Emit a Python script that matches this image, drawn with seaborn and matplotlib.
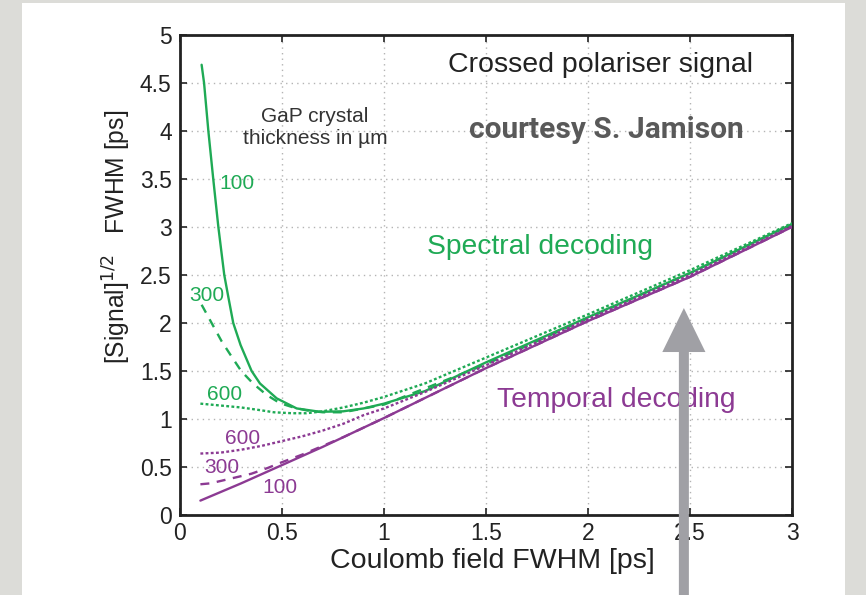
import matplotlib
matplotlib.use("Agg")
import matplotlib.pyplot as plt
import seaborn as sns
import pandas as pd
from matplotlib.patches import Rectangle

# ---------------- data ----------------
x_spec100 = [0.106, 0.118, 0.139, 0.163, 0.188, 0.217, 0.237, 0.261, 0.297, 0.351, 0.392, 0.474, 0.572, 0.686, 0.80, 0.90, 1.00, 1.20, 1.50, 2.00, 2.50, 3.00]
y_spec100 = [4.69, 4.50, 4.00, 3.50, 3.00, 2.50, 2.27, 2.00, 1.77, 1.50, 1.37, 1.215, 1.11, 1.075, 1.08, 1.11, 1.16, 1.29, 1.59, 2.06, 2.52, 3.03]

x_spec300 = [0.106, 0.155, 0.204, 0.253, 0.30, 0.358, 0.425, 0.49, 0.556, 0.62, 0.70, 0.80, 1.00, 1.50, 2.00, 2.50, 3.00]
y_spec300 = [2.19, 2.00, 1.81, 1.65, 1.50, 1.37, 1.25, 1.165, 1.12, 1.09, 1.07, 1.07, 1.15, 1.57, 2.05, 2.52, 3.03]

x_spec600 = [0.10, 0.20, 0.30, 0.40, 0.46, 0.55, 0.62, 0.70, 0.80, 0.90, 1.00, 1.20, 1.50, 2.00, 2.50, 3.00]
y_spec600 = [1.16, 1.14, 1.12, 1.09, 1.07, 1.06, 1.06, 1.08, 1.12, 1.17, 1.23, 1.37, 1.64, 2.09, 2.55, 3.04]

x_temp100 = [0.10, 0.30, 0.50, 0.70, 1.00, 1.50, 2.00, 2.50, 3.00]
y_temp100 = [0.15, 0.33, 0.52, 0.71, 1.01, 1.53, 2.02, 2.48, 3.00]

x_temp300 = [0.10, 0.15, 0.25, 0.35, 0.43, 0.50, 0.60, 0.70, 0.80, 1.00, 1.50, 2.00, 2.50, 3.00]
y_temp300 = [0.32, 0.33, 0.38, 0.43, 0.49, 0.55, 0.63, 0.72, 0.81, 1.01, 1.53, 2.02, 2.48, 3.00]

x_temp600 = [0.10, 0.20, 0.30, 0.40, 0.50, 0.60, 0.70, 0.80, 0.90, 1.00, 1.20, 1.50, 2.00, 2.50, 3.00]
y_temp600 = [0.64, 0.65, 0.68, 0.72, 0.77, 0.82, 0.88, 0.95, 1.04, 1.11, 1.28, 1.56, 2.04, 2.50, 3.01]

x_ticks = [0, 0.5, 1, 1.5, 2, 2.5, 3]
x_tick_labels = ["0", "0.5", "1", "1.5", "2", "2.5", "3"]
y_ticks = [0, 0.5, 1, 1.5, 2, 2.5, 3, 3.5, 4, 4.5, 5]
y_tick_labels = ["0", "0.5", "1", "1.5", "2", "2.5", "3", "3.5", "4", "4.5", "5"]

GREEN = "#1faa55"
PURPLE = "#8c3a93"

sns.set_style("ticks")
plt.rcParams["font.family"] = ["Liberation Sans", "DejaVu Sans"]

fig = plt.figure(figsize=(8.66, 5.95), dpi=100)
fig.patch.set_facecolor("#dcdcd8")
panel = Rectangle((22 / 866, 0), (845 - 22) / 866, 1 - 3 / 595,
                  transform=fig.transFigure, facecolor="white",
                  edgecolor="none", zorder=-10)
fig.add_artist(panel)
ax = fig.add_axes([180 / 866, 80 / 595, 612 / 866, 480 / 595])
ax.set_zorder(1)
ax.set_facecolor("white")

DASH = (0, (3.8, 3.2))
DOT = (0, (1.2, 1))
series = [
    (x_spec100, y_spec100, GREEN, "-"),
    (x_spec300, y_spec300, GREEN, DASH),
    (x_spec600, y_spec600, GREEN, DOT),
    (x_temp100, y_temp100, PURPLE, "-"),
    (x_temp300, y_temp300, PURPLE, DASH),
    (x_temp600, y_temp600, PURPLE, DOT),
]
for xs, ys, c, ls in series:
    df = pd.DataFrame({"x": xs, "y": ys})
    sns.lineplot(data=df, x="x", y="y", ax=ax, color=c, linestyle=ls,
                 linewidth=1.7, zorder=3)

ax.set_xlim(0, 3)
ax.set_ylim(0, 5)
ax.set_xticks(x_ticks)
ax.set_xticklabels(x_tick_labels)
ax.set_yticks(y_ticks)
ax.set_yticklabels(y_tick_labels)
ax.grid(True, color="#b4b4b4", linestyle=(0, (1, 3)), linewidth=1.0)
ax.tick_params(direction="in", length=5, width=1.2, labelsize=16.5,
               top=True, right=True, colors="#222222")
ax.tick_params(axis="y", pad=6)
ax.tick_params(axis="x", pad=5)
for s in ax.spines.values():
    s.set_linewidth(2.0)
    s.set_color("#222222")

ax.set_xlabel("Coulomb field FWHM [ps]", fontsize=20.5, color="#222222")
ax.xaxis.set_label_coords(0.51, -0.068)
ax.set_ylabel(r"[Signal]$^{1/2}$   FWHM [ps]", fontsize=17.7, color="#222222")
ax.yaxis.set_label_coords(-0.077, 0.579)

# curve labels
ax.text(0.279, 3.45, "100", color=GREEN, fontsize=15, ha="center", va="center")
ax.text(0.132, 2.29, "300", color=GREEN, fontsize=15, ha="center", va="center")
ax.text(0.22, 1.25, "600", color=GREEN, fontsize=15, ha="center", va="center")
ax.text(0.309, 0.80, "600", color=PURPLE, fontsize=15, ha="center", va="center")
ax.text(0.206, 0.49, "300", color=PURPLE, fontsize=15, ha="center", va="center")
ax.text(0.49, 0.29, "100", color=PURPLE, fontsize=15, ha="center", va="center")

ax.text(0.662, 4.04, "GaP crystal\nthickness in µm", color="#333333", fontsize=15,
        ha="center", va="center", linespacing=1.2)
ax.text(2.06, 4.69, "Crossed polariser signal", color="#222222", fontsize=20.5,
        ha="center", va="center")
ax.text(2.09, 4.01, "courtesy S. Jamison", color="#595959", fontsize=21.5,
        fontweight="bold", family=["Roboto", "DejaVu Sans"],
        ha="center", va="center")
ax.text(1.765, 2.79, "Spectral decoding", color=GREEN, fontsize=20.3,
        ha="center", va="center")
ax.text(2.14, 1.20, "Temporal decoding", color=PURPLE, fontsize=20.3,
        ha="center", va="center")

# grey arrow overlay
ax.annotate("", xy=(2.47, 2.156), xytext=(2.47, -0.95), xycoords="data",
            textcoords="data", annotation_clip=False,
            arrowprops=dict(arrowstyle="simple,head_length=0.99,head_width=0.97,tail_width=0.225",
                            color="#a0a0a5", lw=0, shrinkA=0, shrinkB=0,
                            mutation_scale=32, clip_on=False),
            zorder=10)

fig.savefig("out.png", dpi=100, facecolor=fig.get_facecolor())
